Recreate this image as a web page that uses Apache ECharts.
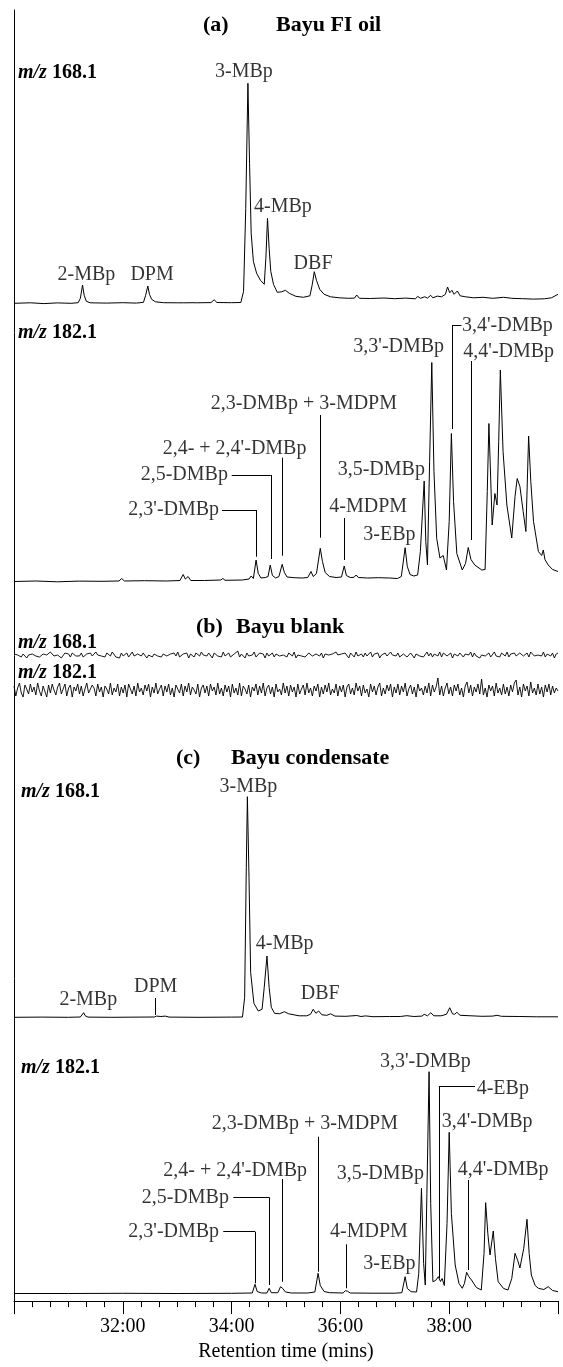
<!DOCTYPE html>
<html>
<head>
<meta charset="utf-8">
<script src="https://cdn.jsdelivr.net/npm/echarts@6/dist/echarts.min.js"></script>
<style>
  html, body { margin: 0; padding: 0; background: #fff; }
  #chart { width: 563px; height: 1367px; }
</style>
</head>
<body>
<div id="chart"></div>
<script>
// Retention-time axis (minutes) and its tick labels
const timeMin = 30;
const timeMax = 40;
const majorStep = 2;
const tickLabels = ['32:00', '34:00', '36:00', '38:00'];

// ---- (a) Bayu FI oil, m/z 168.1 : [time (min), relative abundance]
const oil168 = [
  [30.00,0],[30.30,0.5],[30.55,-0.3],[30.80,0.4],[31.05,0],[31.18,0.6],[31.22,5],[31.26,18.3],[31.29,8],[31.33,2],
  [31.40,0.5],[31.70,0.2],[32.00,0.6],[32.25,0.2],[32.38,1],[32.42,8],[32.46,17.3],[32.49,9],[32.53,4],[32.60,1.5],
  [32.75,0.6],[33.00,0.5],[33.12,0.5],[33.15,2.5],[33.18,0.5],[33.29,0.6],[33.32,2],[33.35,0.5],[33.62,0.7],[33.68,3.5],
  [33.73,0.8],[34.00,0.6],[34.17,0.8],[34.22,12],[34.26,95],[34.30,220],[34.33,140],[34.36,70],[34.40,42],[34.46,30],
  [34.53,23],[34.60,19],[34.63,45],[34.66,85],[34.69,55],[34.72,32],[34.77,19],[34.84,11],[34.92,11.5],[34.99,13],
  [35.06,10],[35.18,7],[35.32,6],[35.44,7.5],[35.48,18],[35.52,31.6],[35.56,23],[35.62,14],[35.70,9],[35.82,6.5],
  [35.98,5.5],[36.15,5],[36.26,5.2],[36.30,8.3],[36.35,5],[36.55,4.8],[36.80,5.3],[37.00,4.6],[37.20,5.2],[37.38,4.5],
  [37.42,7],[37.47,5],[37.55,6.5],[37.60,5.2],[37.66,8],[37.70,5.5],[37.78,7.2],[37.86,6.5],[37.93,9],[37.97,16.3],
  [38.01,10.5],[38.05,13],[38.09,9],[38.15,12.3],[38.20,7.5],[38.30,6.5],[38.45,5.5],[38.62,6],[38.80,5],[39.00,6],
  [39.15,5],[39.35,4.6],[39.55,4.2],[39.75,4.5],[39.88,5.5],[40.00,9]
];

// ---- (a) Bayu FI oil, m/z 182.1
const oil182 = [
  [30.00,0],[30.40,0.5],[30.80,-0.3],[31.20,0.4],[31.60,0.2],[31.93,0.5],[31.98,3],[32.03,0.5],[32.40,0.8],[32.80,0.5],
  [33.05,1],[33.11,7],[33.15,2.5],[33.20,5],[33.25,1],[33.50,1],[33.80,1.5],[33.84,3],[33.88,1.2],[34.20,1.5],
  [34.32,2.5],[34.36,5.5],[34.40,3],[34.45,21.5],[34.49,8],[34.54,3.5],[34.62,4],[34.67,5],[34.71,16.5],[34.75,6],
  [34.81,3.5],[34.87,5],[34.93,17.2],[34.97,9],[35.02,4.5],[35.15,3.8],[35.30,3.5],[35.40,4],[35.46,10],[35.50,5],
  [35.56,8],[35.63,33.2],[35.67,20],[35.72,9],[35.80,5],[35.92,4],[36.02,4.5],[36.07,15.5],[36.11,6],[36.18,4],
  [36.25,4.2],[36.29,6.5],[36.33,4],[36.50,3.5],[36.70,3.8],[36.90,3.5],[37.05,3],[37.12,5],[37.19,33.8],[37.23,15],
  [37.28,7],[37.35,5.5],[37.42,6.5],[37.47,30],[37.54,100.5],[37.57,40],[37.60,16.5],[37.64,120],[37.68,219],[37.72,110],
  [37.77,43],[37.83,23.5],[37.89,26],[37.95,11.5],[38.00,60],[38.04,148],[38.08,80],[38.14,28],[38.24,11.5],[38.30,18],
  [38.35,34],[38.40,22],[38.47,16.5],[38.60,11.5],[38.66,12],[38.70,90],[38.73,158],[38.79,56.5],[38.84,88],[38.88,76.5],
  [38.91,140],[38.94,211.5],[38.99,130],[39.06,76.5],[39.15,43.5],[39.21,85],[39.25,103],[39.30,95],[39.36,70],[39.41,50],
  [39.46,145.5],[39.50,100],[39.55,60],[39.64,30],[39.70,26],[39.73,31.5],[39.76,22],[39.82,16.5],[39.90,12],[40.00,10]
];

// ---- (b) Bayu blank, m/z 168.1 : detector noise, evenly sampled across 30-40 min
const blank168 = [
  1,-1,0,2,-2,1,-1,-3,0,2,1,3,-1,0,-2,-1,1,2,0,-2,3,1,-1,-2,0,1,-3,-1,2,0,
  1,-2,2,3,-1,0,-1,2,-2,-3,1,0,2,-1,1,3,0,-2,-1,1,-2,2,0,-1,3,1,-2,0,-3,2,
  -1,1,2,-2,0,3,-1,-2,1,0,-1,2,1,-3,0,2,-2,1,3,-1,0,-2,1,2,-1,-3,1,0,2,-1,
  3,-2,0,1,-1,2,-3,1,0,-2,2,1,-1,3,0,-2,-1,2,1,-3,2,0,-1,1,-2,3,-1,0,2,-2,
  0,1,-1,4,-2,1,0,-3,2,-1,1,0,3,-2,-1,2,0,1,-3,2,-1,0,2,-2,1,3,-1,-2,0,1,
  -2,2,1,-1,3,-3,0,2,-1,1,-2,0,2,3,-1,-2,1,0,-1,2,-3,1,2,0,-2,1,-1,3,0,-2,
  1,-1,2,0,-3,2,1,-2,3,-1,0,1,-2,2,-1,0,3,-2,1,-1,2,-3,0,1,2,-1,-2,3,0,1,
  -1,2,-2,0,1,3,-2,-1,2,0,-3,1,2,-1,1,-2,0,3,-1,2,-2,1,0,-1,3,-2,2,0,-1,1,
  2,-3,1,0,-1,2,4,-2,1,-1,0,3,-2,2,-1,1,-3,0,2,-1,1,2,-2,0,3,-1,1,-2,2,0,
  -1,3,-2,1,0,2,-1,-3,2,1,-1,0,2,-2,3,1,-1,-2,0,2,-1,3,-2,1,0,-1,2,-3,1,2
];

// ---- (b) Bayu blank, m/z 182.1
const blank182 = [
  4,-6,2,7,-3,-7,5,1,-4,6,-2,3,-5,7,-1,-6,4,2,-7,5,-3,6,0,-5,3,7,-4,-2,6,-6,
  2,5,-7,3,-1,6,-4,4,-6,1,7,-3,-5,5,2,-6,6,-2,3,-7,4,1,-4,7,-5,2,-2,6,-6,3,
  -3,5,-7,6,1,-4,4,-6,7,-2,2,-5,5,-1,6,-7,3,-3,7,-4,1,5,-6,4,-2,6,-5,2,-7,5,
  1,-3,6,-6,4,-2,7,-5,3,0,-4,6,-7,2,5,-3,4,-6,6,-1,3,-5,7,-4,2,-6,5,-2,4,-7,
  6,-3,2,-5,7,-6,4,1,-4,5,-7,3,-1,6,-5,4,-3,7,-6,2,5,-4,3,-7,6,-2,1,-5,7,-3,
  4,-6,5,-2,3,-7,6,-4,1,5,-5,7,-3,2,-6,4,-1,6,-7,3,-4,5,-2,7,-5,1,-3,6,-6,4,
  -2,5,-7,3,6,-4,2,-5,7,-1,4,-6,5,-3,1,-7,6,-2,4,-5,3,7,-6,2,-4,5,-1,6,-7,3,
  -3,6,-5,4,-2,7,-6,1,5,-4,3,-7,6,-1,2,-5,4,-3,7,-6,5,-2,3,12,-5,4,-6,2,7,-4,
  3,-6,5,-1,6,-5,2,-7,4,8,-3,5,-6,3,-2,6,-4,11,-5,2,-7,5,-1,4,-6,7,-3,2,-5,6,
  -4,3,-6,5,-2,7,10,-5,3,-7,6,-1,4,-6,8,-3,2,-5,6,-4,3,-7,5,-2,6,-5,4,-3,2,-1
];

// ---- (c) Bayu condensate, m/z 168.1
const cond168 = [
  [30.00,0],[30.50,0.2],[31.00,0],[31.22,0.3],[31.25,2],[31.28,4.6],[31.31,1.5],[31.36,0.2],[31.80,0],[32.30,0.2],
  [32.58,0.3],[32.62,1.2],[32.70,0.8],[32.78,1.2],[32.85,0.2],[33.40,0],[34.00,0.2],[34.20,0.3],[34.24,20],[34.27,150],
  [34.29,220.6],[34.32,140],[34.35,45],[34.41,14],[34.49,6.3],[34.56,8],[34.60,30],[34.65,61.3],[34.69,30],[34.73,10],
  [34.79,4],[34.88,3.5],[34.97,5.6],[35.05,3.5],[35.24,1.5],[35.38,1.5],[35.45,3],[35.50,8],[35.55,4],[35.60,6.3],
  [35.66,2.5],[35.75,2],[35.82,3.5],[35.90,1.2],[36.10,1],[36.30,1.8],[36.38,0.8],[36.46,1.4],[36.60,0.6],[36.90,0.8],
  [37.10,0.8],[37.22,1.6],[37.35,0.8],[37.50,1.2],[37.54,3],[37.60,1.5],[37.66,4.5],[37.72,1.5],[37.85,1.5],[37.95,3],
  [38.01,9.6],[38.06,3.5],[38.10,3],[38.14,5],[38.20,2],[38.40,1.5],[38.60,1],[38.80,1.2],[38.88,2],[38.96,1],
  [39.30,0.8],[39.60,0.5],[40.00,0.5]
];

// ---- (c) Bayu condensate, m/z 182.1
const cond182 = [
  [30.00,0],[31.00,0],[32.00,0.2],[33.00,0],[34.00,0.2],[34.38,0.5],[34.43,9.2],[34.47,2],[34.55,0.5],[34.65,0.5],
  [34.69,5.2],[34.73,0.8],[34.85,0.8],[34.90,6.8],[34.94,5],[34.99,1.5],[35.10,0.5],[35.40,0.5],[35.53,1.5],[35.59,20.2],
  [35.63,8],[35.70,2],[35.80,0.8],[36.05,0.5],[36.09,2.8],[36.13,2.3],[36.18,0.5],[36.60,0.3],[37.00,0.3],[37.13,0.8],
  [37.19,16.8],[37.23,5],[37.30,1.8],[37.40,1.5],[37.44,20],[37.49,105.2],[37.53,30],[37.56,8.5],[37.59,100],[37.63,221.8],
  [37.66,90],[37.70,11.8],[37.75,13],[37.80,16.8],[37.84,12],[37.87,15],[37.91,8],[37.96,70],[38.00,161.2],[38.04,80],
  [38.11,28.5],[38.18,10],[38.24,5.2],[38.28,10],[38.32,21.2],[38.36,17],[38.41,13.5],[38.50,6],[38.59,3.5],[38.64,40],
  [38.67,90.8],[38.71,60],[38.75,38.5],[38.81,62.5],[38.85,35],[38.90,11.8],[39.00,5],[39.08,3.5],[39.15,15],[39.21,40.2],
  [39.26,33],[39.30,25.5],[39.37,45],[39.43,74.2],[39.47,40],[39.51,18.5],[39.58,8],[39.64,5.2],[39.74,4],[39.82,6.8],
  [39.90,3],[40.00,1.8]
];

// Peak names
const oil168Names = ['2-MBp', 'DPM', '3-MBp', '4-MBp', 'DBF'];
const oil182Names = ["2,3'-DMBp", '2,5-DMBp', "2,4- + 2,4'-DMBp", '2,3-DMBp + 3-MDPM', '4-MDPM',
                     '3,5-DMBp', '3-EBp', "3,3'-DMBp", "3,4'-DMBp", "4,4'-DMBp"];
const cond168Names = ['2-MBp', 'DPM', '3-MBp', '4-MBp', 'DBF'];
const cond182Names = ["2,3'-DMBp", '2,5-DMBp', "2,4- + 2,4'-DMBp", '2,3-DMBp + 3-MDPM', '3,5-DMBp',
                      '4-MDPM', '3-EBp', "3,3'-DMBp", '4-EBp', "3,4'-DMBp", "4,4'-DMBp"];

// ---------------------------------------------------------------------------
// Layout: where each peak name sits (left edge time, height) and its leader lines
const oil168Anchors = [[30.801,28.3],[32.140,28.3],[33.695,231.3],[34.412,96.6],[35.140,40]];
const oil168Leaders = [];
const oil182Anchors = [[32.101,71.5],[32.329,106.5],[32.733,132.5],[33.616,178.2],[35.796,74.8],
                       [35.950,111.5],[36.421,46.5],[36.237,234.8],[38.235,255.5],[38.259,229.8]];
const oil182Leaders = [
  [33.824,71.5,34.46,71.5],[34.46,71.5,34.46,24.8],
  [34.002,106.5,34.72,106.5],[34.72,106.5,34.72,22.5],
  [34.932,123.8,34.932,25.8],
  [35.630,166.5,35.630,43.8],
  [36.079,63.5,36.079,21.5],
  [38.06,256.5,38.225,256.5],[38.06,256.5,38.06,152.5],
  [38.401,220.5,38.401,41.5]
];
const cond168Anchors = [[30.835,17.3],[32.206,30.6],[33.779,230.6],[34.445,74],[35.272,24]];
const cond168Leaders = [[32.603,19.3,32.603,2.3]];
const cond182Anchors = [[32.101,61.8],[32.347,96.2],[32.744,122.5],[33.634,170.2],[35.932,120.2],
                        [35.809,61.8],[36.421,30.2],[36.728,231.8],[38.505,205.2],[37.862,171.8],[38.156,123.5]];
const cond182Leaders = [
  [33.847,61.8,34.43,61.8],[34.43,61.8,34.43,10.2],
  [34.031,96.2,34.69,96.2],[34.69,96.2,34.69,8.5],
  [34.93,114.5,34.93,11.8],
  [35.60,156.8,35.60,21.8],
  [36.10,49.2,36.10,5.2],
  [37.81,206.8,38.474,206.8],[37.81,206.8,37.81,15.2],
  [38.351,113.5,38.351,23.5]
];

const FONT = '"Liberation Serif", "Times New Roman", Times, serif';
const INK = '#000';
const PLOT_LEFT = 14, PLOT_RIGHT = 5;
const SPAN_UP = 290, SPAN_DOWN = 10;

// Each trace gets its own strip; baseline is the pixel row of zero abundance
const panels = [
  { data: oil168,   baseline: 303.3,  names: oil168Names,  anchors: oil168Anchors,  leaders: oil168Leaders },
  { data: oil182,   baseline: 581.5,  names: oil182Names,  anchors: oil182Anchors,  leaders: oil182Leaders },
  { data: blank168, baseline: 655,    sampled: true },
  { data: blank182, baseline: 690,    sampled: true },
  { data: cond168,  baseline: 1017.3, names: cond168Names, anchors: cond168Anchors, leaders: cond168Leaders },
  { data: cond182,  baseline: 1293.5, names: cond182Names, anchors: cond182Anchors, leaders: cond182Leaders }
];

const grids = [{ left: PLOT_LEFT, right: PLOT_RIGHT, top: 10, height: 1293.5 }];
const xAxes = [{
  gridIndex: 0, type: 'value', min: timeMin, max: timeMax, interval: majorStep,
  axisLine: { show: true, onZero: false, lineStyle: { color: INK, width: 1 } },
  axisTick: { show: true, length: 13, lineStyle: { color: INK, width: 1 } },
  minorTick: { show: true, splitNumber: 6, length: 6, lineStyle: { color: INK, width: 1 } },
  splitLine: { show: false }, minorSplitLine: { show: false },
  axisLabel: {
    margin: 16, color: INK, fontFamily: FONT, fontSize: 20,
    formatter: v => tickLabels.find(s => parseInt(s, 10) === v) || ''
  },
  name: 'Retention time (mins)', nameLocation: 'middle', nameGap: 40,
  nameTextStyle: { color: INK, fontFamily: FONT, fontSize: 20 }
}];
const yAxes = [{
  gridIndex: 0, type: 'value', min: 0, max: 1,
  axisLine: { show: true, onZero: false, lineStyle: { color: INK, width: 1 } },
  axisTick: { show: false }, axisLabel: { show: false }, splitLine: { show: false }
}];
const series = [];

panels.forEach((p, i) => {
  const gi = i + 1;
  grids.push({ left: PLOT_LEFT, right: PLOT_RIGHT, top: p.baseline - SPAN_UP, height: SPAN_UP + SPAN_DOWN });
  if (p.sampled) {
    xAxes.push({ gridIndex: gi, type: 'value', min: 0, max: p.data.length - 1, show: false });
  } else {
    xAxes.push({ gridIndex: gi, type: 'value', min: timeMin, max: timeMax, show: false });
  }
  yAxes.push({ gridIndex: gi, type: 'value', min: -SPAN_DOWN, max: SPAN_UP, show: false, splitLine: { show: false } });

  const lineData = p.sampled ? p.data.map((v, k) => [k, v]) : p.data;
  const s = {
    type: 'line', xAxisIndex: gi, yAxisIndex: gi, data: lineData,
    showSymbol: false, symbol: 'none', silent: true, animation: false, clip: false,
    lineStyle: { color: INK, width: p.sampled ? 0.9 : 1 }
  };
  if (p.leaders && p.leaders.length) {
    s.markLine = {
      silent: true, animation: false, symbol: ['none', 'none'],
      label: { show: false },
      lineStyle: { color: INK, width: 1, type: 'solid' },
      data: p.leaders.map(l => [{ coord: [l[0], l[1]] }, { coord: [l[2], l[3]] }])
    };
  }
  series.push(s);

  if (p.names) {
    series.push({
      type: 'scatter', xAxisIndex: gi, yAxisIndex: gi, symbolSize: 0, silent: true,
      animation: false, clip: false,
      data: p.names.map((n, k) => [p.anchors[k][0], p.anchors[k][1], n]),
      label: {
        show: true, position: 'right', distance: 0,
        formatter: q => q.value[2],
        color: INK, fontFamily: FONT, fontSize: 20
      }
    });
  }
});

// Panel headings and ion labels
const head = (text, left, top) => ({
  text, left, top, padding: 0,
  textStyle: { color: INK, fontFamily: FONT, fontSize: 22, fontWeight: 'bold' }
});
const ion = (mass, left, top) => ({
  text: '{i|m/z} {b|' + mass + '}', left, top, padding: 0,
  textStyle: {
    rich: {
      i: { color: INK, fontFamily: FONT, fontSize: 20, fontWeight: 'bold', fontStyle: 'italic' },
      b: { color: INK, fontFamily: FONT, fontSize: 20, fontWeight: 'bold' }
    }
  }
});
const titles = [
  head('(a)', 203, 14), head('Bayu FI oil', 276, 14),
  head('(b)', 196, 616), head('Bayu blank', 236, 616),
  head('(c)', 176, 747), head('Bayu condensate', 231, 747),
  ion('168.1', 18, 63), ion('182.1', 18, 323),
  ion('168.1', 18, 633), ion('182.1', 18, 663),
  ion('168.1', 21, 782), ion('182.1', 21, 1058)
];

const chart = echarts.init(document.getElementById('chart'), null, { renderer: 'canvas' });
chart.setOption({
  backgroundColor: '#fff',
  animation: false,
  title: titles,
  grid: grids,
  xAxis: xAxes,
  yAxis: yAxes,
  series
});
</script>
</body>
</html>
